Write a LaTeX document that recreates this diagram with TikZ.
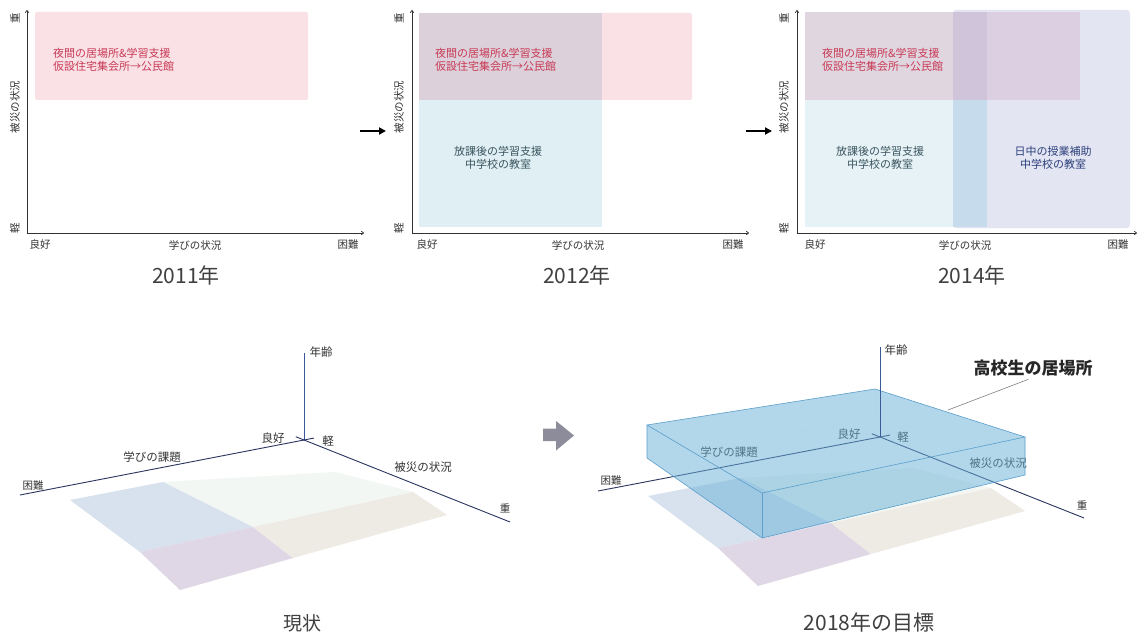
\documentclass[tikz,border=0pt]{standalone}
\usepackage{fontspec}
\setmainfont{Noto Sans CJK JP}
\usetikzlibrary{arrows.meta,calc}
\definecolor{pinkbox}{HTML}{F9E1E6}
\definecolor{mauvebox}{HTML}{DCD0DA}
\definecolor{ltblue}{HTML}{E0EFF3}
\definecolor{ltblueC}{HTML}{E6F2F5}
\definecolor{mauveC}{HTML}{E0D6E0}
\definecolor{purpstrip}{HTML}{CFC4DA}
\definecolor{bluestrip}{HTML}{C6DBEC}
\definecolor{pinkpurp}{HTML}{DCCFE2}
\definecolor{lavender}{HTML}{E3E5F3}
\definecolor{redtext}{HTML}{C83A55}
\definecolor{tealtext}{HTML}{3A5560}
\definecolor{navytext}{HTML}{2C3F7A}
\definecolor{labgray}{HTML}{333333}
\definecolor{yeargray}{HTML}{404040}
\definecolor{axisnavy}{HTML}{2A3560}
\definecolor{vaxis}{HTML}{3A5A9A}
\definecolor{flblue}{HTML}{D8E1EE}
\definecolor{flmauve}{HTML}{DFD7E5}
\definecolor{flbeige}{HTML}{EEEAE4}
\definecolor{flgreen}{HTML}{F2F7F3}
\definecolor{boxblue}{HTML}{6AB2D8}
\definecolor{boxedge}{HTML}{5B9FCC}
\definecolor{arrowgray}{HTML}{8C8C9B}
\begin{document}
\begin{tikzpicture}[x=1pt,y=-1pt,
  axis/.style={draw=labgray, line width=0.7pt, -{To[length=3pt,width=4pt]}},
  lab/.style={font=\fontsize{10.5}{12}\selectfont, text=labgray, inner sep=0},
  ylab/.style={lab, rotate=90},
  year/.style={font=\fontsize{21}{24}\selectfont, text=yeargray, inner sep=0},
  redtxt/.style={font=\fontsize{11}{13}\selectfont, text=redtext, align=left, inner sep=0, anchor=west},
  bltxt/.style={font=\fontsize{11}{13}\selectfont, align=center, inner sep=0},
  stepar/.style={line width=1.8pt, black, -{Triangle[length=7pt,width=7pt]}},
  ax3/.style={draw=axisnavy, line width=0.9pt},
  vax3/.style={draw=vaxis, line width=0.9pt},
  lab3/.style={font=\fontsize{11.5}{13}\selectfont, text=labgray, inner sep=0},
  face/.style={fill=boxblue, fill opacity=0.3, draw=none},
  bedge/.style={draw=boxedge, line width=0.6pt}
]
\useasboundingbox (0,0) rectangle (1140,639);
\fill[white] (0,0) rectangle (1140,639);

% ---------------- Panel 1 : 2011 ----------------
\fill[pinkbox, rounded corners=2pt] (35,12) rectangle (308,100);
\node[redtxt] (r1) at (53,59.5) {夜間の居場所\&学習支援\\仮設住宅集会所→公民館};
\coordinate (o1) at (27,233);
\coordinate (y1) at (27,10);
\coordinate (x1) at (364,233);
\draw[axis] (o1) -- (y1);
\draw[axis] (o1) -- (x1);
\node[ylab] (h1) at (15,18) {重};
\node[ylab] (s1) at (15,107) {被災の状況};
\node[ylab] (l1) at (15,228) {軽};
\node[lab] (g1) at (40,245) {良好};
\node[lab] (m1) at (195,245) {学びの状況};
\node[lab] (k1) at (348,245) {困難};
\node[year] (yr1) at (186,275) {2011年};

% arrow 1 -> 2
\coordinate (a1s) at (360,131);
\coordinate (a1e) at (386,131);
\draw[stepar] (a1s) -- (a1e);

% ---------------- Panel 2 : 2012 ----------------
\fill[pinkbox, rounded corners=2pt] (419,13) rectangle (692,100);
\fill[mauvebox] (419,13) rectangle (602,100);
\fill[ltblue] (419,100) rectangle (602,227);
\node[redtxt] (r2) at (435,59.5) {夜間の居場所\&学習支援\\仮設住宅集会所→公民館};
\node[bltxt, text=tealtext] (b2) at (498,157.5) {放課後の学習支援\\中学校の教室};
\coordinate (o2) at (412,233);
\coordinate (y2) at (412,10);
\coordinate (x2) at (749,233);
\draw[axis] (o2) -- (y2);
\draw[axis] (o2) -- (x2);
\node[ylab] (h2) at (399,18) {重};
\node[ylab] (s2) at (399,107) {被災の状況};
\node[ylab] (l2) at (399,228) {軽};
\node[lab] (g2) at (427,245) {良好};
\node[lab] (m2) at (578,245) {学びの状況};
\node[lab] (k2) at (733,245) {困難};
\node[year] (yr2) at (577,275) {2012年};

% arrow 2 -> 3
\coordinate (a2s) at (746,131);
\coordinate (a2e) at (772,131);
\draw[stepar] (a2s) -- (a2e);

% ---------------- Panel 3 : 2014 ----------------
\fill[mauveC] (805,12) rectangle (953,100);
\fill[ltblueC] (805,100) rectangle (953,227);
\fill[lavender, rounded corners=3pt] (953,10) rectangle (1130,228);
\fill[purpstrip] (953,12) rectangle (987,100);
\fill[bluestrip] (953,100) rectangle (987,227);
\fill[pinkpurp] (987,12) rectangle (1080,100);
\node[redtxt] (r3) at (822,59.5) {夜間の居場所\&学習支援\\仮設住宅集会所→公民館};
\node[bltxt, text=tealtext] (b3) at (880,157.5) {放課後の学習支援\\中学校の教室};
\node[bltxt, text=navytext] (n3) at (1053,157.5) {日中の授業補助\\中学校の教室};
\coordinate (o3) at (797,233);
\coordinate (y3) at (797,10);
\coordinate (x3) at (1137,233);
\draw[axis] (o3) -- (y3);
\draw[axis] (o3) -- (x3);
\node[ylab] (h3) at (784,18) {重};
\node[ylab] (s3) at (784,107) {被災の状況};
\node[ylab] (l3) at (784,228) {軽};
\node[lab] (g3) at (815,245) {良好};
\node[lab] (m3) at (965,245) {学びの状況};
\node[lab] (k3) at (1118,245) {困難};
\node[year] (yr3) at (972,275) {2014年};

% ---------------- Bottom left : 現状 ----------------
\begin{scope}
\fill[flgreen] (163,482) -- (335,472) -- (413,492) -- (253,527) -- cycle;
\fill[flblue] (70,500) -- (163,482) -- (253,527) -- (140,552) -- cycle;
\fill[flmauve] (140,552) -- (253,527) -- (293,558) -- (180,590) -- cycle;
\fill[flbeige] (253,527) -- (413,492) -- (447,515) -- (293,558) -- cycle;
\end{scope}
\coordinate (Lo) at (304,440);
\coordinate (Lv) at (304,353);
\coordinate (Ll) at (20,495);
\coordinate (Lr) at (510,522);
\draw[vax3] (Lo) -- (Lv);
\draw[ax3] (Ll) -- ($(Ll)!1.035!(Lo)$);
\draw[ax3] ($(Lr)!1.04!(Lo)$) -- (Lr);
\node[lab3] (Lage) at (321,352) {年齢};
\node[lab3] (Lgood) at (273,438) {良好};
\node[lab3] (Llight) at (328,441) {軽};
\node[lab3] (Llearn) at (152,457) {学びの課題};
\node[lab3, font=\fontsize{10.5}{12}\selectfont] (Lhard) at (33,486) {困難};
\node[lab3] (Ldis) at (423,467) {被災の状況};
\node[lab3, font=\fontsize{10.5}{12}\selectfont] (Lheavy) at (505,508) {重};
\node[font=\fontsize{19}{22}\selectfont, text=yeargray, inner sep=0] (Lcap) at (302,623) {現状};

% gray arrow
\fill[arrowgray] (543,428.5) -- (556,428.5) -- (556,421) -- (574,435.5) -- (556,450.5) -- (556,441) -- (543,441) -- cycle;

% ---------------- Bottom right : 2018年の目標 ----------------
\begin{scope}[shift={(578,-4)}]
\fill[flgreen] (163,482) -- (335,472) -- (413,492) -- (253,527) -- cycle;
\fill[flblue] (70,500) -- (163,482) -- (253,527) -- (140,552) -- cycle;
\fill[flmauve] (140,552) -- (253,527) -- (293,558) -- (180,590) -- cycle;
\fill[flbeige] (253,527) -- (413,492) -- (447,515) -- (293,558) -- cycle;
\end{scope}
\coordinate (Ro) at (880,437);
\coordinate (Rv) at (880,347);
\coordinate (Rl) at (598,491);
\coordinate (Rr) at (1084,518);
\draw[ax3] (Rl) -- ($(Rl)!1.035!(Ro)$);
\draw[ax3] ($(Rr)!1.04!(Ro)$) -- (Rr);
\node[lab3] (Rgood) at (849,434) {良好};
\node[lab3] (Rlight) at (903,437) {軽};
\node[lab3] (Rlearn) at (729,452) {学びの課題};
\node[lab3, font=\fontsize{10.5}{12}\selectfont] (Rhard) at (611,481) {困難};
\node[lab3] (Rdis) at (998,463) {被災の状況};
\node[lab3, font=\fontsize{10.5}{12}\selectfont] (Rheavy) at (1082,505) {重};
% box corners
\coordinate (A) at (647,425);
\coordinate (B) at (875,389);
\coordinate (C) at (1025,437);
\coordinate (F) at (762,493);
\coordinate (A2) at (647,458);
\coordinate (B2) at (875,418);
\coordinate (C2) at (1025,475);
\coordinate (F2) at (762,538);
% faces
\path[face] (A2) -- (B2) -- (C2) -- (F2) -- cycle;
\path[face] (A) -- (B) -- (B2) -- (A2) -- cycle;
\path[face] (B) -- (C) -- (C2) -- (B2) -- cycle;
\path[face] (A) -- (F) -- (F2) -- (A2) -- cycle;
\path[face] (F) -- (C) -- (C2) -- (F2) -- cycle;
\path[face] (A) -- (B) -- (C) -- (F) -- cycle;
\draw[bedge] (A) -- (B) -- (C) -- (F) -- cycle;
\draw[bedge] (A) -- (A2) -- (F2) -- (C2) -- (C);
\draw[bedge] (F) -- (F2);
\draw[vax3] (Ro) -- (Rv);
\node[lab3] (Rage) at (896,350) {年齢};
\node[font=\fontsize{17}{20}\selectfont\bfseries, text=black!85, inner sep=0] (Rtitle) at (1033,368) {高校生の居場所};
\coordinate (lead) at (948,410);
\draw[draw=gray, line width=0.6pt] (Rtitle.south west) ++(55,3) -- (lead);
\node[font=\fontsize{21}{24}\selectfont, text=yeargray, inner sep=0] (Rcap) at (869,622) {2018年の目標};
\end{tikzpicture}
\end{document}
